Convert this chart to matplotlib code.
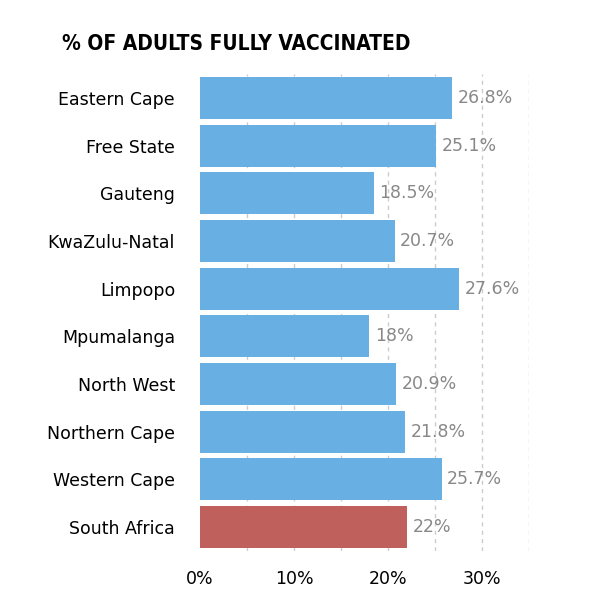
import matplotlib.pyplot as plt

regions = ["Eastern Cape", "Free State", "Gauteng", "KwaZulu-Natal", "Limpopo",
           "Mpumalanga", "North West", "Northern Cape", "Western Cape", "South Africa"]
values = [26.8, 25.1, 18.5, 20.7, 27.6, 18, 20.9, 21.8, 25.7, 22]
labels = ["26.8%", "25.1%", "18.5%", "20.7%", "27.6%", "18%", "20.9%", "21.8%", "25.7%", "22%"]

colors = ["#68b0e4"] * (len(regions) - 1) + ["#c0605c"]

fig = plt.figure(figsize=(5.94, 6.14), dpi=100)
ax = fig.add_axes([200 / 594, 1 - 551 / 614, 329 / 594, 477 / 614])

for g in range(5, 40, 5):
    ax.axvline(g, color="#cccccc", linestyle=(0, (3, 3)), linewidth=1, zorder=0)

ypos = list(range(len(regions)))
ax.barh(ypos, values, height=0.88, color=colors, zorder=2)
for y, v, t in zip(ypos, values, labels):
    ax.text(v + 0.6, y, t, va="center", ha="left", fontsize=12.5, color="#888888", zorder=3)

ax.set_xlim(0, 35)
ax.set_ylim(len(regions) - 0.5, -0.5)
ax.set_yticks(ypos)
ax.set_yticklabels(regions, fontsize=12.5)
ax.set_xticks([0, 10, 20, 30])
ax.set_xticklabels(["0%", "10%", "20%", "30%"], fontsize=12.5)
ax.tick_params(axis="y", length=0, pad=18)
ax.tick_params(axis="x", length=0, pad=14)
for s in ax.spines.values():
    s.set_visible(False)

fig.text(62 / 594, 1 - 44 / 614, "% OF ADULTS FULLY VACCINATED", fontsize=15,
         fontweight="bold", va="center", ha="left", fontstretch="condensed")

fig.savefig("out.png", dpi=100)
